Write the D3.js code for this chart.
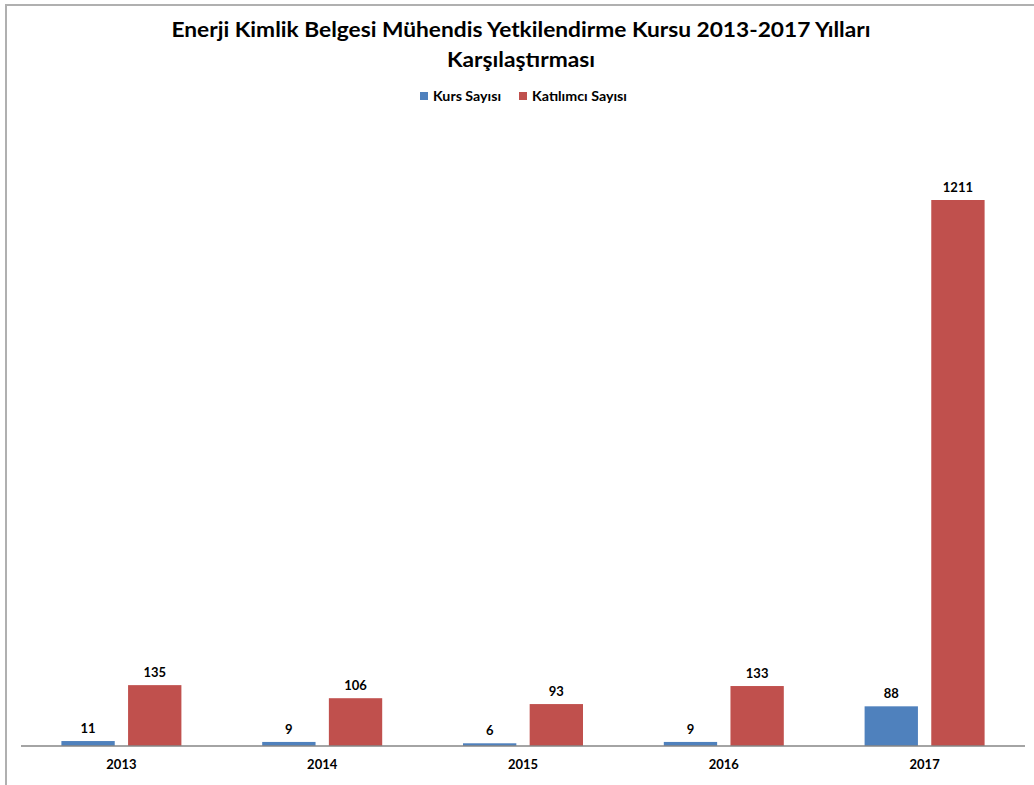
<!DOCTYPE html>
<html><head><meta charset="utf-8">
<script src="https://cdn.jsdelivr.net/npm/d3@7"></script>
<style>body{margin:0;background:#fff}svg{display:block}text{font-family:Lato,"Open Sans",sans-serif;font-weight:bold;fill:#000}</style>
</head><body><svg id="c" width="1034" height="785"></svg>
<script>
const years = ["2013","2014","2015","2016","2017"];
const kursSayisi = [11, 9, 6, 9, 88];
const katilimciSayisi = [135, 106, 93, 133, 1211];
const seriesNames = ["Kurs Sayısı","Katılımcı Sayısı"];
const colors = ["#4F81BD","#C0504D"];
const titleLines = ["Enerji Kimlik Belgesi Mühendis Yetkilendirme Kursu 2013-2017 Yılları","Karşılaştırması"];

const svg = d3.select("#c");
// outer border (top and left)
svg.append("line").attr("x1",5).attr("x2",1034).attr("y1",5).attr("y2",5).attr("stroke","#b0b0b0").attr("stroke-width",2);
svg.append("line").attr("x1",6).attr("x2",6).attr("y1",5).attr("y2",785).attr("stroke","#b0b0b0").attr("stroke-width",2);

const x0 = d3.scaleBand().domain(years).range([21,1025]);
const x1 = d3.scaleBand().domain([0,1]).range([0,120]).paddingInner(0.2);
const y = d3.scaleLinear().domain([0,1211]).range([746,200]);

// title
const t1 = svg.append("text").attr("x",521).attr("y",37).attr("text-anchor","middle").attr("font-size",21).text(titleLines[0]);
t1.attr("textLength",699).attr("lengthAdjust","spacingAndGlyphs");
const t2 = svg.append("text").attr("x",521).attr("y",67).attr("text-anchor","middle").attr("font-size",21).text(titleLines[1]);
t2.attr("textLength",148).attr("lengthAdjust","spacingAndGlyphs");

// legend
const lg = [{x:420,w:68},{x:519,w:95}];
seriesNames.forEach((n,i)=>{
  svg.append("rect").attr("x",lg[i].x).attr("y",92).attr("width",8).attr("height",8).attr("fill",colors[i]);
  svg.append("text").attr("x",lg[i].x+13).attr("y",100.5).attr("font-size",12.5).attr("textLength",lg[i].w).attr("lengthAdjust","spacingAndGlyphs").text(n);
});

const data = years.map((yr,i)=>({yr, vals:[kursSayisi[i], katilimciSayisi[i]]}));
const g = svg.selectAll("g.grp").data(data).join("g").attr("class","grp")
  .attr("transform",d=>`translate(${x0(d.yr)+x0.bandwidth()/2-60},0)`);
g.selectAll("rect").data(d=>d.vals).join("rect")
  .attr("x",(v,i)=>x1(i)).attr("width",x1.bandwidth())
  .attr("y",v=>y(v)).attr("height",v=>y(0)-y(v)).attr("fill",(v,i)=>colors[i]);
g.selectAll("text").data(d=>d.vals).join("text")
  .attr("x",(v,i)=>x1(i)+x1.bandwidth()/2).attr("y",v=>y(v)-8)
  .attr("text-anchor","middle").attr("font-size",13).text(v=>v);

// x axis
const ax = svg.append("g").attr("transform","translate(0,746)").call(d3.axisBottom(x0).tickSize(0).tickPadding(14));
ax.select(".domain").attr("stroke","#868686").attr("stroke-width",1.5).attr("d","M21,0H1025");
ax.selectAll("text").attr("font-size",13).attr("font-family","Lato,sans-serif").attr("font-weight","bold").attr("fill","#000");
</script></body></html>
